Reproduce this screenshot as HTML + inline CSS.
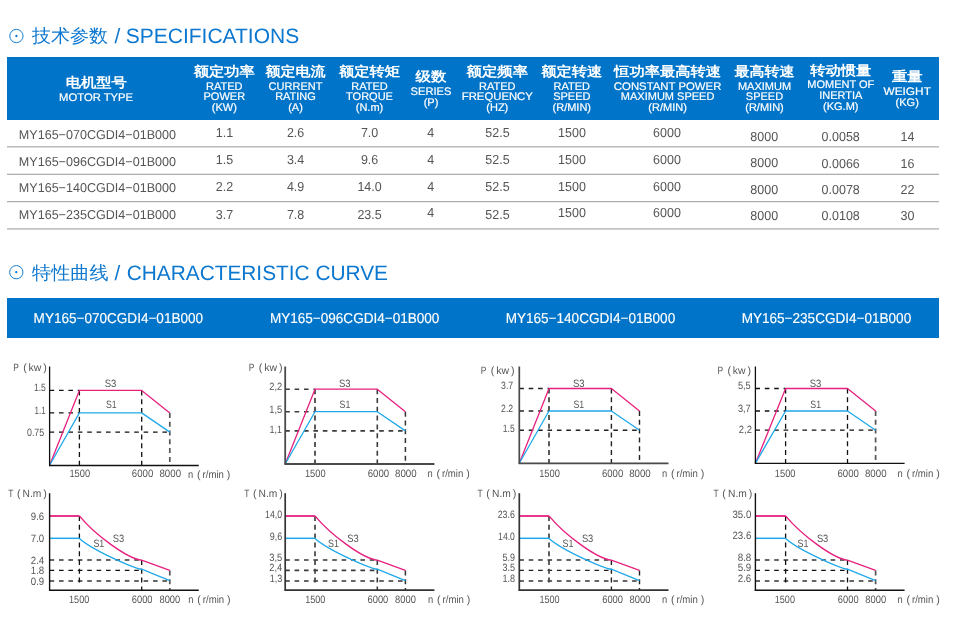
<!DOCTYPE html>
<html><head><meta charset="utf-8"><style>
html,body{margin:0;padding:0;background:#fff;width:956px;height:634px;overflow:hidden}
svg{display:block;will-change:transform}
text{font-family:"Liberation Sans", sans-serif;text-rendering:geometricPrecision}
</style></head><body>
<svg width="956" height="634" viewBox="0 0 956 634">
<circle cx="16.4" cy="36" r="6.65" fill="none" stroke="#0b77cf" stroke-width="0.95"/>
<circle cx="16.4" cy="36" r="1.15" fill="#0b77cf"/>
<text x="32" y="41.8" font-size="18.3" fill="#0b77cf" textLength="76" lengthAdjust="spacingAndGlyphs">技术参数</text>
<text x="114.5" y="43.1" font-size="20.8" fill="#0b77cf">/</text>
<text x="125.8" y="43.1" font-size="20.8" fill="#0b77cf" textLength="173.4" lengthAdjust="spacingAndGlyphs">SPECIFICATIONS</text>
<rect x="7" y="57" width="932" height="63" fill="#0074c8"/>
<text x="96.2" y="87.1" font-size="13.5" fill="#ffffff" text-anchor="middle" font-weight="bold" textLength="61" lengthAdjust="spacingAndGlyphs">电机型号</text>
<text x="96.1" y="100.8" font-size="11" fill="#ffffff" text-anchor="middle" textLength="74" lengthAdjust="spacingAndGlyphs" stroke="#fff" stroke-width="0.2">MOTOR TYPE</text>
<text x="224.3" y="75.8" font-size="13.5" fill="#ffffff" text-anchor="middle" font-weight="bold" textLength="61" lengthAdjust="spacingAndGlyphs">额定功率</text>
<text x="224.3" y="89.7" font-size="11" fill="#ffffff" text-anchor="middle" stroke="#fff" stroke-width="0.2">RATED</text>
<text x="224.3" y="100.3" font-size="11" fill="#ffffff" text-anchor="middle" stroke="#fff" stroke-width="0.2">POWER</text>
<text x="224.3" y="110.9" font-size="11" fill="#ffffff" text-anchor="middle" stroke="#fff" stroke-width="0.2">(KW)</text>
<text x="295.5" y="75.8" font-size="13.5" fill="#ffffff" text-anchor="middle" font-weight="bold" textLength="60" lengthAdjust="spacingAndGlyphs">额定电流</text>
<text x="295.5" y="89.7" font-size="11" fill="#ffffff" text-anchor="middle" stroke="#fff" stroke-width="0.2">CURRENT</text>
<text x="295.5" y="100.3" font-size="11" fill="#ffffff" text-anchor="middle" stroke="#fff" stroke-width="0.2">RATING</text>
<text x="295.5" y="110.9" font-size="11" fill="#ffffff" text-anchor="middle" stroke="#fff" stroke-width="0.2">(A)</text>
<text x="369.5" y="75.8" font-size="13.5" fill="#ffffff" text-anchor="middle" font-weight="bold" textLength="61" lengthAdjust="spacingAndGlyphs">额定转矩</text>
<text x="369.5" y="89.7" font-size="11" fill="#ffffff" text-anchor="middle" stroke="#fff" stroke-width="0.2">RATED</text>
<text x="369.5" y="100.3" font-size="11" fill="#ffffff" text-anchor="middle" stroke="#fff" stroke-width="0.2">TORQUE</text>
<text x="369.5" y="110.9" font-size="11" fill="#ffffff" text-anchor="middle" stroke="#fff" stroke-width="0.2">(N.m)</text>
<text x="431" y="81" font-size="13.5" fill="#ffffff" text-anchor="middle" font-weight="bold" textLength="31" lengthAdjust="spacingAndGlyphs">级数</text>
<text x="431" y="95.2" font-size="11" fill="#ffffff" text-anchor="middle" textLength="41" lengthAdjust="spacingAndGlyphs" stroke="#fff" stroke-width="0.2">SERIES</text>
<text x="431" y="105.8" font-size="11" fill="#ffffff" text-anchor="middle" stroke="#fff" stroke-width="0.2">(P)</text>
<text x="497.3" y="75.8" font-size="13.5" fill="#ffffff" text-anchor="middle" font-weight="bold" textLength="61.5" lengthAdjust="spacingAndGlyphs">额定频率</text>
<text x="497.3" y="89.7" font-size="11" fill="#ffffff" text-anchor="middle" stroke="#fff" stroke-width="0.2">RATED</text>
<text x="497.3" y="100.3" font-size="11" fill="#ffffff" text-anchor="middle" textLength="71" lengthAdjust="spacingAndGlyphs" stroke="#fff" stroke-width="0.2">FREQUENCY</text>
<text x="497.3" y="110.9" font-size="11" fill="#ffffff" text-anchor="middle" stroke="#fff" stroke-width="0.2">(HZ)</text>
<text x="571.8" y="75.8" font-size="13.5" fill="#ffffff" text-anchor="middle" font-weight="bold" textLength="61" lengthAdjust="spacingAndGlyphs">额定转速</text>
<text x="571.8" y="89.7" font-size="11" fill="#ffffff" text-anchor="middle" stroke="#fff" stroke-width="0.2">RATED</text>
<text x="571.8" y="100.3" font-size="11" fill="#ffffff" text-anchor="middle" stroke="#fff" stroke-width="0.2">SPEED</text>
<text x="571.8" y="110.9" font-size="11" fill="#ffffff" text-anchor="middle" stroke="#fff" stroke-width="0.2">(R/MIN)</text>
<text x="667.6" y="75.8" font-size="13.5" fill="#ffffff" text-anchor="middle" font-weight="bold" textLength="107" lengthAdjust="spacingAndGlyphs">恒功率最高转速</text>
<text x="667.6" y="89.7" font-size="11" fill="#ffffff" text-anchor="middle" textLength="107.5" lengthAdjust="spacingAndGlyphs" stroke="#fff" stroke-width="0.2">CONSTANT POWER</text>
<text x="667.6" y="100.3" font-size="11" fill="#ffffff" text-anchor="middle" stroke="#fff" stroke-width="0.2">MAXIMUM SPEED</text>
<text x="667.6" y="110.9" font-size="11" fill="#ffffff" text-anchor="middle" stroke="#fff" stroke-width="0.2">(R/MIN)</text>
<text x="764.5" y="75.8" font-size="13.5" fill="#ffffff" text-anchor="middle" font-weight="bold" textLength="60" lengthAdjust="spacingAndGlyphs">最高转速</text>
<text x="764.5" y="89.7" font-size="11" fill="#ffffff" text-anchor="middle" stroke="#fff" stroke-width="0.2">MAXIMUM</text>
<text x="764.5" y="100.3" font-size="11" fill="#ffffff" text-anchor="middle" stroke="#fff" stroke-width="0.2">SPEED</text>
<text x="764.5" y="110.9" font-size="11" fill="#ffffff" text-anchor="middle" stroke="#fff" stroke-width="0.2">(R/MIN)</text>
<text x="840.8" y="74.8" font-size="13.5" fill="#ffffff" text-anchor="middle" font-weight="bold" textLength="61" lengthAdjust="spacingAndGlyphs">转动惯量</text>
<text x="840.8" y="88.4" font-size="11" fill="#ffffff" text-anchor="middle" stroke="#fff" stroke-width="0.2">MOMENT OF</text>
<text x="840.8" y="99.0" font-size="11" fill="#ffffff" text-anchor="middle" stroke="#fff" stroke-width="0.2">INERTIA</text>
<text x="840.8" y="109.6" font-size="11" fill="#ffffff" text-anchor="middle" stroke="#fff" stroke-width="0.2">(KG.M)</text>
<text x="907.2" y="81" font-size="13.5" fill="#ffffff" text-anchor="middle" font-weight="bold" textLength="30.6" lengthAdjust="spacingAndGlyphs">重量</text>
<text x="907.2" y="95.2" font-size="11" fill="#ffffff" text-anchor="middle" textLength="47.5" lengthAdjust="spacingAndGlyphs" stroke="#fff" stroke-width="0.2">WEIGHT</text>
<text x="907.2" y="105.8" font-size="11" fill="#ffffff" text-anchor="middle" stroke="#fff" stroke-width="0.2">(KG)</text>
<text x="18.8" y="138.9" font-size="12.9" fill="#555" textLength="157.2" lengthAdjust="spacingAndGlyphs">MY165−070CGDI4−01B000</text>
<text x="224.5" y="137.0" font-size="13.0" fill="#555" text-anchor="middle" textLength="17.38" lengthAdjust="spacingAndGlyphs">1.1</text>
<text x="295.6" y="137.0" font-size="13.0" fill="#555" text-anchor="middle" textLength="17.38" lengthAdjust="spacingAndGlyphs">2.6</text>
<text x="369.6" y="137.0" font-size="13.0" fill="#555" text-anchor="middle" textLength="17.38" lengthAdjust="spacingAndGlyphs">7.0</text>
<text x="430.7" y="137.0" font-size="13.0" fill="#555" text-anchor="middle" textLength="6.95" lengthAdjust="spacingAndGlyphs">4</text>
<text x="497.5" y="137.0" font-size="13.0" fill="#555" text-anchor="middle" textLength="24.33" lengthAdjust="spacingAndGlyphs">52.5</text>
<text x="572" y="137.0" font-size="13.0" fill="#555" text-anchor="middle" textLength="27.81" lengthAdjust="spacingAndGlyphs">1500</text>
<text x="667" y="137.0" font-size="13.0" fill="#555" text-anchor="middle" textLength="27.81" lengthAdjust="spacingAndGlyphs">6000</text>
<text x="764.2" y="140.5" font-size="13.0" fill="#555" text-anchor="middle" textLength="27.81" lengthAdjust="spacingAndGlyphs">8000</text>
<text x="840.7" y="141.0" font-size="13.0" fill="#555" text-anchor="middle" textLength="38.23" lengthAdjust="spacingAndGlyphs">0.0058</text>
<text x="907.4" y="141.0" font-size="13.0" fill="#555" text-anchor="middle" textLength="13.9" lengthAdjust="spacingAndGlyphs">14</text>
<text x="18.8" y="165.8" font-size="12.9" fill="#555" textLength="157.2" lengthAdjust="spacingAndGlyphs">MY165−096CGDI4−01B000</text>
<text x="224.5" y="163.7" font-size="13.0" fill="#555" text-anchor="middle" textLength="17.38" lengthAdjust="spacingAndGlyphs">1.5</text>
<text x="295.6" y="163.7" font-size="13.0" fill="#555" text-anchor="middle" textLength="17.38" lengthAdjust="spacingAndGlyphs">3.4</text>
<text x="369.6" y="163.7" font-size="13.0" fill="#555" text-anchor="middle" textLength="17.38" lengthAdjust="spacingAndGlyphs">9.6</text>
<text x="430.7" y="163.7" font-size="13.0" fill="#555" text-anchor="middle" textLength="6.95" lengthAdjust="spacingAndGlyphs">4</text>
<text x="497.5" y="163.7" font-size="13.0" fill="#555" text-anchor="middle" textLength="24.33" lengthAdjust="spacingAndGlyphs">52.5</text>
<text x="572" y="163.7" font-size="13.0" fill="#555" text-anchor="middle" textLength="27.81" lengthAdjust="spacingAndGlyphs">1500</text>
<text x="667" y="163.7" font-size="13.0" fill="#555" text-anchor="middle" textLength="27.81" lengthAdjust="spacingAndGlyphs">6000</text>
<text x="764.2" y="166.8" font-size="13.0" fill="#555" text-anchor="middle" textLength="27.81" lengthAdjust="spacingAndGlyphs">8000</text>
<text x="840.7" y="167.7" font-size="13.0" fill="#555" text-anchor="middle" textLength="38.23" lengthAdjust="spacingAndGlyphs">0.0066</text>
<text x="907.4" y="167.7" font-size="13.0" fill="#555" text-anchor="middle" textLength="13.9" lengthAdjust="spacingAndGlyphs">16</text>
<text x="18.8" y="192.3" font-size="12.9" fill="#555" textLength="157.2" lengthAdjust="spacingAndGlyphs">MY165−140CGDI4−01B000</text>
<text x="224.5" y="190.5" font-size="13.0" fill="#555" text-anchor="middle" textLength="17.38" lengthAdjust="spacingAndGlyphs">2.2</text>
<text x="295.6" y="190.5" font-size="13.0" fill="#555" text-anchor="middle" textLength="17.38" lengthAdjust="spacingAndGlyphs">4.9</text>
<text x="369.6" y="190.5" font-size="13.0" fill="#555" text-anchor="middle" textLength="24.33" lengthAdjust="spacingAndGlyphs">14.0</text>
<text x="430.7" y="190.5" font-size="13.0" fill="#555" text-anchor="middle" textLength="6.95" lengthAdjust="spacingAndGlyphs">4</text>
<text x="497.5" y="190.5" font-size="13.0" fill="#555" text-anchor="middle" textLength="24.33" lengthAdjust="spacingAndGlyphs">52.5</text>
<text x="572" y="190.5" font-size="13.0" fill="#555" text-anchor="middle" textLength="27.81" lengthAdjust="spacingAndGlyphs">1500</text>
<text x="667" y="190.5" font-size="13.0" fill="#555" text-anchor="middle" textLength="27.81" lengthAdjust="spacingAndGlyphs">6000</text>
<text x="764.2" y="193.6" font-size="13.0" fill="#555" text-anchor="middle" textLength="27.81" lengthAdjust="spacingAndGlyphs">8000</text>
<text x="840.7" y="194.2" font-size="13.0" fill="#555" text-anchor="middle" textLength="38.23" lengthAdjust="spacingAndGlyphs">0.0078</text>
<text x="907.4" y="194.2" font-size="13.0" fill="#555" text-anchor="middle" textLength="13.9" lengthAdjust="spacingAndGlyphs">22</text>
<text x="18.8" y="219.1" font-size="12.9" fill="#555" textLength="157.2" lengthAdjust="spacingAndGlyphs">MY165−235CGDI4−01B000</text>
<text x="224.5" y="219.2" font-size="13.0" fill="#555" text-anchor="middle" textLength="17.38" lengthAdjust="spacingAndGlyphs">3.7</text>
<text x="295.6" y="219.2" font-size="13.0" fill="#555" text-anchor="middle" textLength="17.38" lengthAdjust="spacingAndGlyphs">7.8</text>
<text x="369.6" y="219.2" font-size="13.0" fill="#555" text-anchor="middle" textLength="24.33" lengthAdjust="spacingAndGlyphs">23.5</text>
<text x="430.7" y="216.9" font-size="13.0" fill="#555" text-anchor="middle" textLength="6.95" lengthAdjust="spacingAndGlyphs">4</text>
<text x="497.5" y="218.7" font-size="13.0" fill="#555" text-anchor="middle" textLength="24.33" lengthAdjust="spacingAndGlyphs">52.5</text>
<text x="572" y="217.1" font-size="13.0" fill="#555" text-anchor="middle" textLength="27.81" lengthAdjust="spacingAndGlyphs">1500</text>
<text x="667" y="216.8" font-size="13.0" fill="#555" text-anchor="middle" textLength="27.81" lengthAdjust="spacingAndGlyphs">6000</text>
<text x="764.2" y="220.4" font-size="13.0" fill="#555" text-anchor="middle" textLength="27.81" lengthAdjust="spacingAndGlyphs">8000</text>
<text x="840.7" y="219.5" font-size="13.0" fill="#555" text-anchor="middle" textLength="38.23" lengthAdjust="spacingAndGlyphs">0.0108</text>
<text x="907.4" y="219.5" font-size="13.0" fill="#555" text-anchor="middle" textLength="13.9" lengthAdjust="spacingAndGlyphs">30</text>
<rect x="7" y="146.2" width="932" height="1.25" fill="#aaaeb1"/>
<rect x="7" y="173.7" width="932" height="1.25" fill="#aaaeb1"/>
<rect x="7" y="201.0" width="932" height="1.25" fill="#aaaeb1"/>
<rect x="7" y="228.3" width="932" height="1.25" fill="#aaaeb1"/>
<circle cx="16.3" cy="272.2" r="6.65" fill="none" stroke="#0b77cf" stroke-width="0.95"/>
<circle cx="16.3" cy="272.2" r="1.15" fill="#0b77cf"/>
<text x="32" y="278.6" font-size="18.3" fill="#0b77cf" textLength="76.6" lengthAdjust="spacingAndGlyphs">特性曲线</text>
<text x="114.5" y="280.1" font-size="20.8" fill="#0b77cf">/</text>
<text x="126.7" y="280.1" font-size="20.8" fill="#0b77cf" textLength="261.3" lengthAdjust="spacingAndGlyphs">CHARACTERISTIC CURVE</text>
<rect x="7" y="298" width="932" height="40" fill="#0074c8"/>
<text x="33.6" y="323.3" font-size="14.3" fill="#ffffff" textLength="169.5" lengthAdjust="spacingAndGlyphs" stroke="#fff" stroke-width="0.15">MY165−070CGDI4−01B000</text>
<text x="269.9" y="323.3" font-size="14.3" fill="#ffffff" textLength="169.5" lengthAdjust="spacingAndGlyphs" stroke="#fff" stroke-width="0.15">MY165−096CGDI4−01B000</text>
<text x="505.7" y="323.3" font-size="14.3" fill="#ffffff" textLength="169.5" lengthAdjust="spacingAndGlyphs" stroke="#fff" stroke-width="0.15">MY165−140CGDI4−01B000</text>
<text x="741.7" y="323.3" font-size="14.3" fill="#ffffff" textLength="169.5" lengthAdjust="spacingAndGlyphs" stroke="#fff" stroke-width="0.15">MY165−235CGDI4−01B000</text>
<line x1="49.6" y1="390.4" x2="79.4" y2="390.4" stroke="#111" stroke-width="1.3" stroke-dasharray="4.6 4.8" stroke-linecap="butt"/>
<line x1="49.6" y1="412.9" x2="79.4" y2="412.9" stroke="#111" stroke-width="1.3" stroke-dasharray="4.6 4.8" stroke-linecap="butt"/>
<line x1="49.6" y1="432.09999999999997" x2="169.8" y2="432.09999999999997" stroke="#111" stroke-width="1.3" stroke-dasharray="4.6 4.8" stroke-linecap="butt"/>
<line x1="79.4" y1="390.4" x2="79.4" y2="465.2" stroke="#111" stroke-width="1.3" stroke-dasharray="5 3.8" stroke-linecap="butt"/>
<line x1="141.7" y1="390.4" x2="141.7" y2="465.2" stroke="#111" stroke-width="1.3" stroke-dasharray="5 3.8" stroke-linecap="butt"/>
<line x1="169.8" y1="412.9" x2="169.8" y2="465.2" stroke="#555" stroke-width="1.7" stroke-dasharray="5 3.8" stroke-linecap="butt"/>
<polyline points="49.6,465.2 79.4,390.4 141.7,390.4 169.8,412.9" fill="none" stroke="#e6207f" stroke-width="1.3" stroke-linejoin="round"/>
<polyline points="49.6,465.2 79.4,412.9 141.7,412.9 169.8,432.09999999999997" fill="none" stroke="#20a9ea" stroke-width="1.3" stroke-linejoin="round"/>
<line x1="49.6" y1="366.5" x2="49.6" y2="466.1" stroke="#111" stroke-width="1.3" stroke-linecap="butt"/>
<line x1="49.0" y1="465.5" x2="198.79999999999998" y2="465.5" stroke="#111" stroke-width="1.3" stroke-linecap="butt"/>
<text x="104.80000000000001" y="387.0" font-size="10.6" fill="#555" textLength="11.6" lengthAdjust="spacingAndGlyphs">S3</text>
<text x="106.0" y="407.8" font-size="10.6" fill="#555" textLength="10.7" lengthAdjust="spacingAndGlyphs">S1</text>
<text x="45.800000000000004" y="391.0" font-size="10.6" fill="#555" text-anchor="end" textLength="11.9" lengthAdjust="spacingAndGlyphs">1.5</text>
<text x="45.800000000000004" y="413.5" font-size="10.6" fill="#555" text-anchor="end" textLength="11.2" lengthAdjust="spacingAndGlyphs">1.1</text>
<text x="44.2" y="435.79999999999995" font-size="10.6" fill="#555" text-anchor="end" textLength="17.2" lengthAdjust="spacingAndGlyphs">0.75</text>
<text x="13.200000000000003" y="370.7" font-size="10.6" fill="#555" textLength="5.6" lengthAdjust="spacingAndGlyphs">P</text>
<text x="23.200000000000003" y="370.7" font-size="10.6" fill="#555">(</text>
<text x="28.6" y="370.7" font-size="10.6" fill="#555" textLength="12.8" lengthAdjust="spacingAndGlyphs">kw</text>
<text x="43.300000000000004" y="370.7" font-size="10.6" fill="#555">)</text>
<text x="79.75" y="477.2" font-size="10.6" fill="#555" text-anchor="middle" textLength="20.7" lengthAdjust="spacingAndGlyphs">1500</text>
<text x="142.55" y="477.2" font-size="10.6" fill="#555" text-anchor="middle" textLength="21.4" lengthAdjust="spacingAndGlyphs">6000</text>
<text x="170.25" y="477.2" font-size="10.6" fill="#555" text-anchor="middle" textLength="21.6" lengthAdjust="spacingAndGlyphs">8000</text>
<text x="188.0" y="477.5" font-size="10.6" fill="#555" textLength="5.2" lengthAdjust="spacingAndGlyphs">n</text>
<text x="197.0" y="477.5" font-size="10.6" fill="#555">(</text>
<text x="202.6" y="477.5" font-size="10.6" fill="#555" textLength="21.3" lengthAdjust="spacingAndGlyphs">r/min</text>
<text x="226.8" y="477.5" font-size="10.6" fill="#555">)</text>
<line x1="49.6" y1="560.0" x2="141.7" y2="560.0" stroke="#666" stroke-width="2.0" stroke-dasharray="4.6 4.8" stroke-linecap="butt"/>
<line x1="49.6" y1="570.4" x2="141.7" y2="570.4" stroke="#111" stroke-width="1.3" stroke-dasharray="4.6 4.8" stroke-linecap="butt"/>
<line x1="49.6" y1="581.0" x2="169.8" y2="581.0" stroke="#666" stroke-width="2.0" stroke-dasharray="4.6 4.8" stroke-linecap="butt"/>
<line x1="79.4" y1="516.0" x2="79.4" y2="585.5" stroke="#111" stroke-width="1.3" stroke-dasharray="5 3.8" stroke-linecap="butt"/>
<line x1="141.7" y1="560.0" x2="141.7" y2="590.2" stroke="#111" stroke-width="1.3" stroke-dasharray="5 3.8" stroke-linecap="butt"/>
<line x1="169.8" y1="570.4" x2="169.8" y2="590.2" stroke="#555" stroke-width="1.7" stroke-dasharray="5 3.8" stroke-linecap="butt"/>
<line x1="49.6" y1="516.0" x2="79.4" y2="516.0" stroke="#e6207f" stroke-width="1.8" stroke-linecap="butt"/>
<line x1="49.6" y1="538.3" x2="79.4" y2="538.3" stroke="#20a9ea" stroke-width="1.5" stroke-linecap="butt"/>
<path d="M79.40,515.9 C94.16,534.0 127.45,559.08 141.70,560.1 L169.80,570.4" fill="none" stroke="#e6207f" stroke-width="1.4"/>
<path d="M79.40,538.4 C92.74,550.39 134.62,568.56 141.70,569.2 L169.80,580.7" fill="none" stroke="#20a9ea" stroke-width="1.4"/>
<line x1="49.6" y1="493.2" x2="49.6" y2="590.8000000000001" stroke="#111" stroke-width="1.4" stroke-linecap="butt"/>
<line x1="49.0" y1="590.2" x2="198.79999999999998" y2="590.2" stroke="#111" stroke-width="1.4" stroke-linecap="butt"/>
<text x="112.7" y="541.8" font-size="10.6" fill="#555" textLength="11.4" lengthAdjust="spacingAndGlyphs">S3</text>
<text x="93.4" y="547.4" font-size="10.6" fill="#555" textLength="10.9" lengthAdjust="spacingAndGlyphs">S1</text>
<text x="44.2" y="519.5" font-size="10.6" fill="#555" text-anchor="end" textLength="13.4" lengthAdjust="spacingAndGlyphs">9.6</text>
<text x="44.2" y="541.5" font-size="10.6" fill="#555" text-anchor="end" textLength="13.4" lengthAdjust="spacingAndGlyphs">7.0</text>
<text x="44.2" y="563.8" font-size="10.6" fill="#555" text-anchor="end" textLength="13.4" lengthAdjust="spacingAndGlyphs">2.4</text>
<text x="44.2" y="573.9" font-size="10.6" fill="#555" text-anchor="end" textLength="13.4" lengthAdjust="spacingAndGlyphs">1.8</text>
<text x="44.2" y="584.8" font-size="10.6" fill="#555" text-anchor="end" textLength="13.4" lengthAdjust="spacingAndGlyphs">0.9</text>
<text x="8.200000000000003" y="497.3" font-size="10.6" fill="#555" textLength="5.2" lengthAdjust="spacingAndGlyphs">T</text>
<text x="16.900000000000002" y="497.3" font-size="10.6" fill="#555">(</text>
<text x="22.6" y="497.3" font-size="10.6" fill="#555" textLength="18.8" lengthAdjust="spacingAndGlyphs">N.m</text>
<text x="43.300000000000004" y="497.3" font-size="10.6" fill="#555">)</text>
<text x="79.15" y="602.8" font-size="10.6" fill="#555" text-anchor="middle" textLength="20.2" lengthAdjust="spacingAndGlyphs">1500</text>
<text x="142.15" y="602.8" font-size="10.6" fill="#555" text-anchor="middle" textLength="20.8" lengthAdjust="spacingAndGlyphs">6000</text>
<text x="169.85" y="602.8" font-size="10.6" fill="#555" text-anchor="middle" textLength="20.8" lengthAdjust="spacingAndGlyphs">8000</text>
<text x="188.2" y="603" font-size="10.6" fill="#555" textLength="5.2" lengthAdjust="spacingAndGlyphs">n</text>
<text x="197.2" y="603" font-size="10.6" fill="#555">(</text>
<text x="202.79999999999998" y="603" font-size="10.6" fill="#555" textLength="21.3" lengthAdjust="spacingAndGlyphs">r/min</text>
<text x="227.0" y="603" font-size="10.6" fill="#555">)</text>
<line x1="285.2" y1="389.2" x2="315.0" y2="389.2" stroke="#3c3c3c" stroke-width="1.6" stroke-dasharray="4.6 4.8" stroke-linecap="butt"/>
<line x1="285.2" y1="411.7" x2="315.0" y2="411.7" stroke="#3c3c3c" stroke-width="1.6" stroke-dasharray="4.6 4.8" stroke-linecap="butt"/>
<line x1="285.2" y1="430.9" x2="405.4" y2="430.9" stroke="#3c3c3c" stroke-width="1.6" stroke-dasharray="4.6 4.8" stroke-linecap="butt"/>
<line x1="315.0" y1="389.2" x2="315.0" y2="464.0" stroke="#3c3c3c" stroke-width="1.7" stroke-dasharray="5 3.8" stroke-linecap="butt"/>
<line x1="377.29999999999995" y1="389.2" x2="377.29999999999995" y2="464.0" stroke="#3c3c3c" stroke-width="1.6" stroke-dasharray="5 3.8" stroke-linecap="butt"/>
<line x1="405.4" y1="411.7" x2="405.4" y2="464.0" stroke="#333" stroke-width="1.5" stroke-dasharray="5 3.8" stroke-linecap="butt"/>
<polyline points="285.2,464.0 315.0,389.2 377.29999999999995,389.2 405.4,411.7" fill="none" stroke="#e6207f" stroke-width="1.3" stroke-linejoin="round"/>
<polyline points="285.2,464.0 315.0,411.7 377.29999999999995,411.7 405.4,430.9" fill="none" stroke="#20a9ea" stroke-width="1.3" stroke-linejoin="round"/>
<line x1="285.2" y1="366.5" x2="285.2" y2="464.6" stroke="#4a4a4a" stroke-width="1.8" stroke-linecap="butt"/>
<line x1="284.59999999999997" y1="464.0" x2="434.4" y2="464.0" stroke="#4a4a4a" stroke-width="1.8" stroke-linecap="butt"/>
<text x="338.9" y="387.0" font-size="10.6" fill="#555" textLength="11.6" lengthAdjust="spacingAndGlyphs">S3</text>
<text x="339.59999999999997" y="407.8" font-size="10.6" fill="#555" textLength="10.7" lengthAdjust="spacingAndGlyphs">S1</text>
<text x="282.2" y="390.4" font-size="10.6" fill="#555" text-anchor="end" textLength="12.9" lengthAdjust="spacingAndGlyphs">2,2</text>
<text x="282.2" y="413.4" font-size="10.6" fill="#555" text-anchor="end" textLength="12.9" lengthAdjust="spacingAndGlyphs">1,5</text>
<text x="281.9" y="432.5" font-size="10.6" fill="#555" text-anchor="end" textLength="12.5" lengthAdjust="spacingAndGlyphs">1,1</text>
<text x="248.79999999999998" y="370.7" font-size="10.6" fill="#555" textLength="5.6" lengthAdjust="spacingAndGlyphs">P</text>
<text x="258.79999999999995" y="370.7" font-size="10.6" fill="#555">(</text>
<text x="264.2" y="370.7" font-size="10.6" fill="#555" textLength="12.8" lengthAdjust="spacingAndGlyphs">kw</text>
<text x="278.9" y="370.7" font-size="10.6" fill="#555">)</text>
<text x="315.25" y="476.5" font-size="10.6" fill="#555" text-anchor="middle" textLength="20.7" lengthAdjust="spacingAndGlyphs">1500</text>
<text x="378.4" y="476.5" font-size="10.6" fill="#555" text-anchor="middle" textLength="21.4" lengthAdjust="spacingAndGlyphs">6000</text>
<text x="405.85" y="476.5" font-size="10.6" fill="#555" text-anchor="middle" textLength="21.6" lengthAdjust="spacingAndGlyphs">8000</text>
<text x="427.4" y="476.8" font-size="10.6" fill="#555" textLength="5.2" lengthAdjust="spacingAndGlyphs">n</text>
<text x="436.4" y="476.8" font-size="10.6" fill="#555">(</text>
<text x="442.0" y="476.8" font-size="10.6" fill="#555" textLength="21.3" lengthAdjust="spacingAndGlyphs">r/min</text>
<text x="466.2" y="476.8" font-size="10.6" fill="#555">)</text>
<line x1="285.2" y1="560.0" x2="377.29999999999995" y2="560.0" stroke="#666" stroke-width="2.0" stroke-dasharray="4.6 4.8" stroke-linecap="butt"/>
<line x1="285.2" y1="570.4" x2="377.29999999999995" y2="570.4" stroke="#3c3c3c" stroke-width="1.6" stroke-dasharray="4.6 4.8" stroke-linecap="butt"/>
<line x1="285.2" y1="581.0" x2="405.4" y2="581.0" stroke="#666" stroke-width="2.0" stroke-dasharray="4.6 4.8" stroke-linecap="butt"/>
<line x1="315.0" y1="516.0" x2="315.0" y2="585.5" stroke="#444" stroke-width="1.7" stroke-dasharray="5 3.8" stroke-linecap="butt"/>
<line x1="377.29999999999995" y1="560.0" x2="377.29999999999995" y2="590.2" stroke="#3c3c3c" stroke-width="1.6" stroke-dasharray="5 3.8" stroke-linecap="butt"/>
<line x1="405.4" y1="570.4" x2="405.4" y2="590.2" stroke="#333" stroke-width="1.5" stroke-dasharray="5 3.8" stroke-linecap="butt"/>
<line x1="285.2" y1="516.0" x2="315.0" y2="516.0" stroke="#e6207f" stroke-width="1.8" stroke-linecap="butt"/>
<line x1="285.2" y1="538.3" x2="315.0" y2="538.3" stroke="#20a9ea" stroke-width="1.5" stroke-linecap="butt"/>
<path d="M315.00,515.9 C329.76,534.0 363.05,559.08 377.30,560.1 L405.40,570.4" fill="none" stroke="#e6207f" stroke-width="1.4"/>
<path d="M315.00,538.4 C328.34,550.39 370.22,568.56 377.30,569.2 L405.40,580.7" fill="none" stroke="#20a9ea" stroke-width="1.4"/>
<line x1="285.2" y1="493.2" x2="285.2" y2="590.8000000000001" stroke="#333" stroke-width="1.7" stroke-linecap="butt"/>
<line x1="284.59999999999997" y1="590.2" x2="434.4" y2="590.2" stroke="#333" stroke-width="1.7" stroke-linecap="butt"/>
<text x="347.3" y="541.8" font-size="10.6" fill="#555" textLength="11.4" lengthAdjust="spacingAndGlyphs">S3</text>
<text x="328.0" y="547.4" font-size="10.6" fill="#555" textLength="10.9" lengthAdjust="spacingAndGlyphs">S1</text>
<text x="282.2" y="517.6" font-size="10.6" fill="#555" text-anchor="end" textLength="17.1" lengthAdjust="spacingAndGlyphs">14,0</text>
<text x="282.2" y="539.5999999999999" font-size="10.6" fill="#555" text-anchor="end" textLength="12.5" lengthAdjust="spacingAndGlyphs">9,6</text>
<text x="282.2" y="560.9" font-size="10.6" fill="#555" text-anchor="end" textLength="13" lengthAdjust="spacingAndGlyphs">3,5</text>
<text x="282.2" y="571.4" font-size="10.6" fill="#555" text-anchor="end" textLength="13" lengthAdjust="spacingAndGlyphs">2,4</text>
<text x="282.2" y="581.9" font-size="10.6" fill="#555" text-anchor="end" textLength="12.5" lengthAdjust="spacingAndGlyphs">1,3</text>
<text x="244.2" y="497.3" font-size="10.6" fill="#555" textLength="5.2" lengthAdjust="spacingAndGlyphs">T</text>
<text x="252.89999999999998" y="497.3" font-size="10.6" fill="#555">(</text>
<text x="258.59999999999997" y="497.3" font-size="10.6" fill="#555" textLength="18.8" lengthAdjust="spacingAndGlyphs">N.m</text>
<text x="279.3" y="497.3" font-size="10.6" fill="#555">)</text>
<text x="315.25" y="602.8" font-size="10.6" fill="#555" text-anchor="middle" textLength="20.2" lengthAdjust="spacingAndGlyphs">1500</text>
<text x="377.9" y="602.8" font-size="10.6" fill="#555" text-anchor="middle" textLength="20.8" lengthAdjust="spacingAndGlyphs">6000</text>
<text x="405.5" y="602.8" font-size="10.6" fill="#555" text-anchor="middle" textLength="20.8" lengthAdjust="spacingAndGlyphs">8000</text>
<text x="428.0" y="603" font-size="10.6" fill="#555" textLength="5.2" lengthAdjust="spacingAndGlyphs">n</text>
<text x="437.0" y="603" font-size="10.6" fill="#555">(</text>
<text x="442.6" y="603" font-size="10.6" fill="#555" textLength="21.3" lengthAdjust="spacingAndGlyphs">r/min</text>
<text x="466.8" y="603" font-size="10.6" fill="#555">)</text>
<line x1="519.3" y1="388.5" x2="549.0" y2="388.5" stroke="#222" stroke-width="1.4" stroke-dasharray="4.6 4.8" stroke-linecap="butt"/>
<line x1="519.3" y1="411.0" x2="549.0" y2="411.0" stroke="#222" stroke-width="1.4" stroke-dasharray="4.6 4.8" stroke-linecap="butt"/>
<line x1="519.3" y1="430.2" x2="639.5" y2="430.2" stroke="#222" stroke-width="1.4" stroke-dasharray="4.6 4.8" stroke-linecap="butt"/>
<line x1="549.0" y1="388.5" x2="549.0" y2="463.3" stroke="#333" stroke-width="1.6" stroke-dasharray="5 3.8" stroke-linecap="butt"/>
<line x1="611.4" y1="388.5" x2="611.4" y2="463.3" stroke="#222" stroke-width="1.4" stroke-dasharray="5 3.8" stroke-linecap="butt"/>
<line x1="639.5" y1="411.0" x2="639.5" y2="463.3" stroke="#222" stroke-width="1.4" stroke-dasharray="5 3.8" stroke-linecap="butt"/>
<polyline points="519.3,463.3 549.0,388.5 611.4,388.5 639.5,411.0" fill="none" stroke="#e6207f" stroke-width="1.3" stroke-linejoin="round"/>
<polyline points="519.3,463.3 549.0,411.0 611.4,411.0 639.5,430.2" fill="none" stroke="#20a9ea" stroke-width="1.3" stroke-linejoin="round"/>
<line x1="519.3" y1="366.5" x2="519.3" y2="463.90000000000003" stroke="#4a4a4a" stroke-width="1.7" stroke-linecap="butt"/>
<line x1="518.6999999999999" y1="463.3" x2="668.5" y2="463.3" stroke="#4a4a4a" stroke-width="1.7" stroke-linecap="butt"/>
<text x="573.0" y="387.0" font-size="10.6" fill="#555" textLength="11.6" lengthAdjust="spacingAndGlyphs">S3</text>
<text x="573.4" y="407.8" font-size="10.6" fill="#555" textLength="10.7" lengthAdjust="spacingAndGlyphs">S1</text>
<text x="513.1999999999999" y="389.3" font-size="10.6" fill="#555" text-anchor="end" textLength="12.1" lengthAdjust="spacingAndGlyphs">3.7</text>
<text x="513.1999999999999" y="412.2" font-size="10.6" fill="#555" text-anchor="end" textLength="12.1" lengthAdjust="spacingAndGlyphs">2.2</text>
<text x="514.6999999999999" y="432.3" font-size="10.6" fill="#555" text-anchor="end" textLength="11.9" lengthAdjust="spacingAndGlyphs">1.5</text>
<text x="480.79999999999995" y="373.8" font-size="10.6" fill="#555" textLength="5.6" lengthAdjust="spacingAndGlyphs">P</text>
<text x="490.79999999999995" y="373.8" font-size="10.6" fill="#555">(</text>
<text x="496.19999999999993" y="373.8" font-size="10.6" fill="#555" textLength="12.8" lengthAdjust="spacingAndGlyphs">kw</text>
<text x="510.9" y="373.8" font-size="10.6" fill="#555">)</text>
<text x="549.55" y="476.5" font-size="10.6" fill="#555" text-anchor="middle" textLength="20.7" lengthAdjust="spacingAndGlyphs">1500</text>
<text x="612.6" y="476.5" font-size="10.6" fill="#555" text-anchor="middle" textLength="21.4" lengthAdjust="spacingAndGlyphs">6000</text>
<text x="639.95" y="476.5" font-size="10.6" fill="#555" text-anchor="middle" textLength="21.6" lengthAdjust="spacingAndGlyphs">8000</text>
<text x="661.9" y="476.8" font-size="10.6" fill="#555" textLength="5.2" lengthAdjust="spacingAndGlyphs">n</text>
<text x="670.9" y="476.8" font-size="10.6" fill="#555">(</text>
<text x="676.5" y="476.8" font-size="10.6" fill="#555" textLength="21.3" lengthAdjust="spacingAndGlyphs">r/min</text>
<text x="700.6999999999999" y="476.8" font-size="10.6" fill="#555">)</text>
<line x1="519.3" y1="560.0" x2="611.4" y2="560.0" stroke="#666" stroke-width="2.0" stroke-dasharray="4.6 4.8" stroke-linecap="butt"/>
<line x1="519.3" y1="570.4" x2="611.4" y2="570.4" stroke="#222" stroke-width="1.4" stroke-dasharray="4.6 4.8" stroke-linecap="butt"/>
<line x1="519.3" y1="581.0" x2="639.5" y2="581.0" stroke="#666" stroke-width="2.0" stroke-dasharray="4.6 4.8" stroke-linecap="butt"/>
<line x1="549.0" y1="516.0" x2="549.0" y2="585.5" stroke="#444" stroke-width="1.7" stroke-dasharray="5 3.8" stroke-linecap="butt"/>
<line x1="611.4" y1="560.0" x2="611.4" y2="590.2" stroke="#222" stroke-width="1.4" stroke-dasharray="5 3.8" stroke-linecap="butt"/>
<line x1="639.5" y1="570.4" x2="639.5" y2="590.2" stroke="#222" stroke-width="1.4" stroke-dasharray="5 3.8" stroke-linecap="butt"/>
<line x1="519.3" y1="516.0" x2="549.0" y2="516.0" stroke="#e6207f" stroke-width="1.8" stroke-linecap="butt"/>
<line x1="519.3" y1="538.3" x2="549.0" y2="538.3" stroke="#20a9ea" stroke-width="1.5" stroke-linecap="butt"/>
<path d="M549.00,515.9 C563.76,534.0 597.05,559.08 611.40,560.1 L639.50,570.4" fill="none" stroke="#e6207f" stroke-width="1.4"/>
<path d="M549.00,538.4 C562.34,550.39 604.22,568.56 611.40,569.2 L639.50,580.7" fill="none" stroke="#20a9ea" stroke-width="1.4"/>
<line x1="519.3" y1="493.2" x2="519.3" y2="590.8000000000001" stroke="#333" stroke-width="1.7" stroke-linecap="butt"/>
<line x1="518.6999999999999" y1="590.2" x2="668.5" y2="590.2" stroke="#333" stroke-width="1.7" stroke-linecap="butt"/>
<text x="581.9" y="541.8" font-size="10.6" fill="#555" textLength="11.4" lengthAdjust="spacingAndGlyphs">S3</text>
<text x="562.5999999999999" y="547.4" font-size="10.6" fill="#555" textLength="10.9" lengthAdjust="spacingAndGlyphs">S1</text>
<text x="514.9" y="517.5" font-size="10.6" fill="#555" text-anchor="end" textLength="17.2" lengthAdjust="spacingAndGlyphs">23.6</text>
<text x="514.9" y="539.5999999999999" font-size="10.6" fill="#555" text-anchor="end" textLength="16.8" lengthAdjust="spacingAndGlyphs">14.0</text>
<text x="514.9" y="560.9" font-size="10.6" fill="#555" text-anchor="end" textLength="12.5" lengthAdjust="spacingAndGlyphs">5.9</text>
<text x="514.9" y="571.4" font-size="10.6" fill="#555" text-anchor="end" textLength="12.5" lengthAdjust="spacingAndGlyphs">3.5</text>
<text x="514.9" y="581.9" font-size="10.6" fill="#555" text-anchor="end" textLength="12.5" lengthAdjust="spacingAndGlyphs">1.8</text>
<text x="477.59999999999997" y="497.3" font-size="10.6" fill="#555" textLength="5.2" lengthAdjust="spacingAndGlyphs">T</text>
<text x="486.29999999999995" y="497.3" font-size="10.6" fill="#555">(</text>
<text x="491.99999999999994" y="497.3" font-size="10.6" fill="#555" textLength="18.8" lengthAdjust="spacingAndGlyphs">N.m</text>
<text x="512.6999999999999" y="497.3" font-size="10.6" fill="#555">)</text>
<text x="549.55" y="602.8" font-size="10.6" fill="#555" text-anchor="middle" textLength="20.2" lengthAdjust="spacingAndGlyphs">1500</text>
<text x="612.6" y="602.8" font-size="10.6" fill="#555" text-anchor="middle" textLength="20.8" lengthAdjust="spacingAndGlyphs">6000</text>
<text x="639.95" y="602.8" font-size="10.6" fill="#555" text-anchor="middle" textLength="20.8" lengthAdjust="spacingAndGlyphs">8000</text>
<text x="661.9" y="603" font-size="10.6" fill="#555" textLength="5.2" lengthAdjust="spacingAndGlyphs">n</text>
<text x="670.9" y="603" font-size="10.6" fill="#555">(</text>
<text x="676.5" y="603" font-size="10.6" fill="#555" textLength="21.3" lengthAdjust="spacingAndGlyphs">r/min</text>
<text x="700.6999999999999" y="603" font-size="10.6" fill="#555">)</text>
<line x1="755.4" y1="388.5" x2="785.6" y2="388.5" stroke="#111" stroke-width="1.3" stroke-dasharray="4.6 4.8" stroke-linecap="butt"/>
<line x1="755.4" y1="411.0" x2="785.6" y2="411.0" stroke="#111" stroke-width="1.3" stroke-dasharray="4.6 4.8" stroke-linecap="butt"/>
<line x1="755.4" y1="430.2" x2="875.6" y2="430.2" stroke="#111" stroke-width="1.3" stroke-dasharray="4.6 4.8" stroke-linecap="butt"/>
<line x1="785.6" y1="388.5" x2="785.6" y2="463.3" stroke="#111" stroke-width="1.3" stroke-dasharray="5 3.8" stroke-linecap="butt"/>
<line x1="847.5" y1="388.5" x2="847.5" y2="463.3" stroke="#111" stroke-width="1.3" stroke-dasharray="5 3.8" stroke-linecap="butt"/>
<line x1="875.6" y1="411.0" x2="875.6" y2="463.3" stroke="#555" stroke-width="1.7" stroke-dasharray="5 3.8" stroke-linecap="butt"/>
<polyline points="755.4,463.3 785.6,388.5 847.5,388.5 875.6,411.0" fill="none" stroke="#e6207f" stroke-width="1.3" stroke-linejoin="round"/>
<polyline points="755.4,463.3 785.6,411.0 847.5,411.0 875.6,430.2" fill="none" stroke="#20a9ea" stroke-width="1.3" stroke-linejoin="round"/>
<line x1="755.4" y1="366.5" x2="755.4" y2="463.90000000000003" stroke="#111" stroke-width="1.3" stroke-linecap="butt"/>
<line x1="754.8" y1="463.3" x2="904.5999999999999" y2="463.3" stroke="#111" stroke-width="1.3" stroke-linecap="butt"/>
<text x="809.6999999999999" y="387.0" font-size="10.6" fill="#555" textLength="11.6" lengthAdjust="spacingAndGlyphs">S3</text>
<text x="810.3" y="407.8" font-size="10.6" fill="#555" textLength="10.7" lengthAdjust="spacingAndGlyphs">S1</text>
<text x="750.6999999999999" y="389.3" font-size="10.6" fill="#555" text-anchor="end" textLength="12.8" lengthAdjust="spacingAndGlyphs">5,5</text>
<text x="750.6999999999999" y="412.2" font-size="10.6" fill="#555" text-anchor="end" textLength="12.8" lengthAdjust="spacingAndGlyphs">3,7</text>
<text x="751.9" y="432.7" font-size="10.6" fill="#555" text-anchor="end" textLength="13.1" lengthAdjust="spacingAndGlyphs">2,2</text>
<text x="717.4" y="373.8" font-size="10.6" fill="#555" textLength="5.6" lengthAdjust="spacingAndGlyphs">P</text>
<text x="727.4" y="373.8" font-size="10.6" fill="#555">(</text>
<text x="732.8" y="373.8" font-size="10.6" fill="#555" textLength="12.8" lengthAdjust="spacingAndGlyphs">kw</text>
<text x="747.5" y="373.8" font-size="10.6" fill="#555">)</text>
<text x="785.2" y="476.5" font-size="10.6" fill="#555" text-anchor="middle" textLength="20.7" lengthAdjust="spacingAndGlyphs">1500</text>
<text x="848.2" y="476.5" font-size="10.6" fill="#555" text-anchor="middle" textLength="21.4" lengthAdjust="spacingAndGlyphs">6000</text>
<text x="875.75" y="476.5" font-size="10.6" fill="#555" text-anchor="middle" textLength="21.6" lengthAdjust="spacingAndGlyphs">8000</text>
<text x="897.4" y="476.8" font-size="10.6" fill="#555" textLength="5.2" lengthAdjust="spacingAndGlyphs">n</text>
<text x="906.4" y="476.8" font-size="10.6" fill="#555">(</text>
<text x="912.0" y="476.8" font-size="10.6" fill="#555" textLength="21.3" lengthAdjust="spacingAndGlyphs">r/min</text>
<text x="936.1999999999999" y="476.8" font-size="10.6" fill="#555">)</text>
<line x1="755.4" y1="560.0" x2="847.5" y2="560.0" stroke="#666" stroke-width="2.0" stroke-dasharray="4.6 4.8" stroke-linecap="butt"/>
<line x1="755.4" y1="570.4" x2="847.5" y2="570.4" stroke="#111" stroke-width="1.3" stroke-dasharray="4.6 4.8" stroke-linecap="butt"/>
<line x1="755.4" y1="581.0" x2="875.6" y2="581.0" stroke="#666" stroke-width="2.0" stroke-dasharray="4.6 4.8" stroke-linecap="butt"/>
<line x1="785.6" y1="516.0" x2="785.6" y2="585.5" stroke="#111" stroke-width="1.3" stroke-dasharray="5 3.8" stroke-linecap="butt"/>
<line x1="847.5" y1="560.0" x2="847.5" y2="590.2" stroke="#111" stroke-width="1.3" stroke-dasharray="5 3.8" stroke-linecap="butt"/>
<line x1="875.6" y1="570.4" x2="875.6" y2="590.2" stroke="#555" stroke-width="1.7" stroke-dasharray="5 3.8" stroke-linecap="butt"/>
<line x1="755.4" y1="516.0" x2="785.6" y2="516.0" stroke="#e6207f" stroke-width="1.8" stroke-linecap="butt"/>
<line x1="755.4" y1="538.3" x2="785.6" y2="538.3" stroke="#20a9ea" stroke-width="1.5" stroke-linecap="butt"/>
<path d="M785.60,515.9 C800.36,534.0 833.65,559.08 847.50,560.1 L875.60,570.4" fill="none" stroke="#e6207f" stroke-width="1.4"/>
<path d="M785.60,538.4 C798.94,550.39 840.82,568.56 847.50,569.2 L875.60,580.7" fill="none" stroke="#20a9ea" stroke-width="1.4"/>
<line x1="755.4" y1="493.2" x2="755.4" y2="590.8000000000001" stroke="#111" stroke-width="1.4" stroke-linecap="butt"/>
<line x1="754.8" y1="590.2" x2="904.5999999999999" y2="590.2" stroke="#111" stroke-width="1.4" stroke-linecap="butt"/>
<text x="816.9" y="541.8" font-size="10.6" fill="#555" textLength="11.4" lengthAdjust="spacingAndGlyphs">S3</text>
<text x="797.5999999999999" y="547.4" font-size="10.6" fill="#555" textLength="10.9" lengthAdjust="spacingAndGlyphs">S1</text>
<text x="751.3" y="517.6" font-size="10.6" fill="#555" text-anchor="end" textLength="18.8" lengthAdjust="spacingAndGlyphs">35.0</text>
<text x="751.3" y="539.3" font-size="10.6" fill="#555" text-anchor="end" textLength="18.8" lengthAdjust="spacingAndGlyphs">23.6</text>
<text x="751.3" y="560.9" font-size="10.6" fill="#555" text-anchor="end" textLength="13.6" lengthAdjust="spacingAndGlyphs">8.8</text>
<text x="751.3" y="571.4" font-size="10.6" fill="#555" text-anchor="end" textLength="13.6" lengthAdjust="spacingAndGlyphs">5.9</text>
<text x="751.3" y="581.9" font-size="10.6" fill="#555" text-anchor="end" textLength="13.6" lengthAdjust="spacingAndGlyphs">2.6</text>
<text x="713.6" y="497.3" font-size="10.6" fill="#555" textLength="5.2" lengthAdjust="spacingAndGlyphs">T</text>
<text x="722.3000000000001" y="497.3" font-size="10.6" fill="#555">(</text>
<text x="728.0" y="497.3" font-size="10.6" fill="#555" textLength="18.8" lengthAdjust="spacingAndGlyphs">N.m</text>
<text x="748.7" y="497.3" font-size="10.6" fill="#555">)</text>
<text x="784.85" y="602.8" font-size="10.6" fill="#555" text-anchor="middle" textLength="20.2" lengthAdjust="spacingAndGlyphs">1500</text>
<text x="848.2" y="602.8" font-size="10.6" fill="#555" text-anchor="middle" textLength="20.8" lengthAdjust="spacingAndGlyphs">6000</text>
<text x="875.75" y="602.8" font-size="10.6" fill="#555" text-anchor="middle" textLength="20.8" lengthAdjust="spacingAndGlyphs">8000</text>
<text x="897.4" y="603" font-size="10.6" fill="#555" textLength="5.2" lengthAdjust="spacingAndGlyphs">n</text>
<text x="906.4" y="603" font-size="10.6" fill="#555">(</text>
<text x="912.0" y="603" font-size="10.6" fill="#555" textLength="21.3" lengthAdjust="spacingAndGlyphs">r/min</text>
<text x="936.1999999999999" y="603" font-size="10.6" fill="#555">)</text>
</svg>
</body></html>
